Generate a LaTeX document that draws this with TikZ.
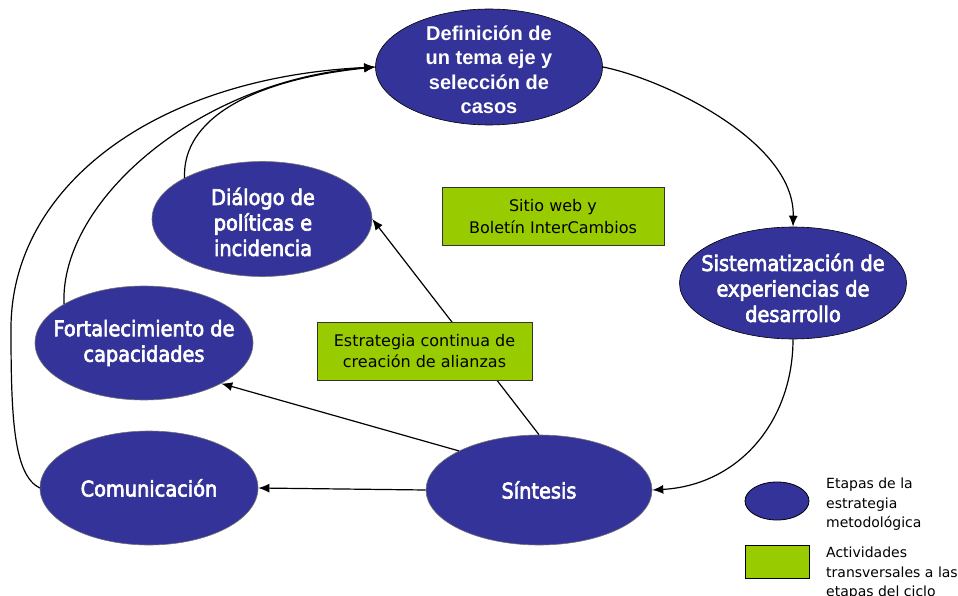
\documentclass[tikz,border=0pt]{standalone}
\usepackage{fontspec}
\setmainfont{DejaVu Sans}
\newfontfamily\condm{DejaVu Sans Condensed}[BoldFont={DejaVu Sans Condensed}, BoldFeatures={FakeBold=3}]
\newfontfamily\arialb{Liberation Sans Bold}
\usetikzlibrary{shapes.geometric,arrows.meta}
\definecolor{stageblue}{HTML}{333399}
\definecolor{actgreen}{HTML}{99CC00}
\tikzset{
  stage/.style={ellipse, fill=stageblue, draw=black!55, line width=0.6pt, inner sep=0pt},
  stagetext/.style={text=white, align=center, font=\condm\bfseries\fontsize{21.5}{25.5}\selectfont},
  actbox/.style={rectangle, fill=actgreen, draw=black!80, line width=0.8pt, inner sep=0pt, align=center, font=\fontsize{16}{21.5}\selectfont},
  conn/.style={line width=1.2pt, -{Latex[length=11pt,width=9pt]}},
  legtext/.style={anchor=north west, align=left, inner sep=0pt, font=\fontsize{14}{19.5}\selectfont}
}
\begin{document}
\begin{tikzpicture}[x=1pt,y=-1pt]
\useasboundingbox (0,0) rectangle (958,596);
% stages
\node[stage, draw=black, minimum width=227pt, minimum height=116pt] (def) at (489,67) {};
\node[text=white, align=center, font=\arialb\fontsize{20}{24.5}\selectfont] (deft) at (489,70) {Definición de\\un tema eje y\\selección de\\casos};
\node[stage, draw=black, minimum width=227pt, minimum height=112pt] (sis) at (793,283) {};
\node[stagetext] (sist) at (793,288) {Sistematización de\\experiencias de\\desarrollo};
\node[stage, minimum width=226pt, minimum height=110pt] (sin) at (539,490) {};
\node[stagetext] (sint) at (sin) {Síntesis};
\node[stage, minimum width=218pt, minimum height=114pt] (com) at (149,488) {};
\node[stagetext] (comt) at (com) {Comunicación};
\node[stage, minimum width=218pt, minimum height=114pt] (fort) at (144,343) {};
\node[stagetext] (fortt) at (fort) {Fortalecimiento de\\capacidades};
\node[stage, minimum width=220pt, minimum height=115pt] (dia) at (262,219) {};
\node[stagetext] (diat) at (263,222) {Diálogo de\\políticas e\\incidencia};
% connectors
\draw[conn] (def.east) .. controls (660,78) and (795,140) .. (sis.north);
\draw[conn] (sis.south) .. controls (793,420) and (740,485) .. (sin.east);
\draw[conn] (sin.west) -- (com.east);
\draw[conn] (sin.north west) -- (fort.south east);
\draw[conn] (sin.north) -- (dia.east);
\draw[conn] (dia.152) .. controls (182,120) and (250,80) .. (def.west);
\draw[conn] (fort.154) .. controls (60,200) and (200,80) .. (def.west);
\draw[conn] (com.west) .. controls (14,475) and (11,420) .. (11,330) .. controls (10,190) and (150,78) .. (def.west);
% activities
\node[actbox, minimum width=222pt, minimum height=58pt] (web) at (553,216.5) {Sitio web y\\Boletín InterCambios};
\node[actbox, minimum width=215pt, minimum height=58pt] (ali) at (424.5,351) {Estrategia continua de\\creación de alianzas};
% legend
\node[ellipse, fill=stageblue, draw=black, line width=0.8pt, minimum width=64pt, minimum height=38pt, inner sep=0pt] (legE) at (777,501) {};
\node[legtext] (legEt) at (826,478) {Etapas de la\\estrategia\\metodológica};
\node[rectangle, fill=actgreen, draw=black, line width=0.8pt, minimum width=64pt, minimum height=33pt, inner sep=0pt] (legR) at (777,561.5) {};
\node[legtext] (legRt) at (826,547) {Actividades\\transversales a las\\etapas del ciclo};
\end{tikzpicture}
\end{document}
